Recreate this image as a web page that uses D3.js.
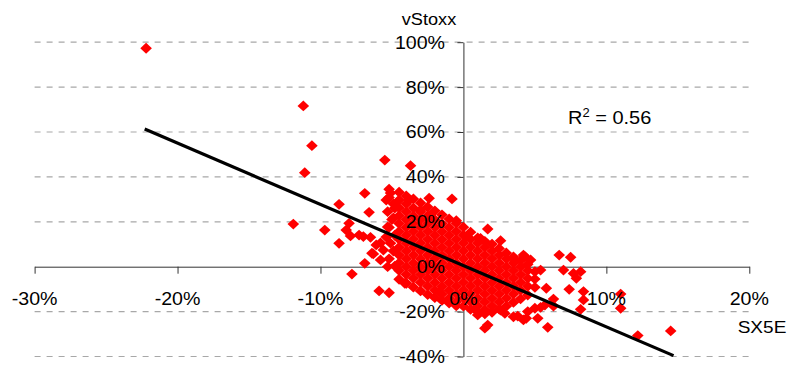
<!DOCTYPE html>
<html><head><meta charset="utf-8">
<script src="https://cdn.jsdelivr.net/npm/d3@7"></script>
<style>
body{margin:0;background:#fff;}
svg{display:block;}
text{font-family:"Liberation Sans",Arial,sans-serif;fill:#000;}
</style>
</head><body>
<svg id="c" width="791" height="367"></svg>
<script>
// ---- data (percent) ----
const xTicks = [-30, -20, -10, 0, 10, 20];
const yTicks = [-40, -20, 0, 20, 40, 60, 80, 100];
const xTitle = "SX5E";
const yTitle = "vStoxx";
const r2Value = "0.56";
const trendLine = [[-22.3, 61.3], [14.7, -39.6]];

const outliers = [
  [-22.2, 97.3], [-11.2, 71.6], [-10.6, 53.9], [-11.1, 41.9], [-11.9, 19.0],
  [-9.7, 16.3], [-8.7, 27.8], [-8.7, 10.4], [-8.0, 19.3], [-8.2, 16.3],
  [-6.9, 32.7], [-6.6, 24.2], [-5.5, 47.5], [-7.8, -3.3], [-6.9, 1.5],
  [-7.3, 14.1], [-7.9, 13.7], [-6.4, 6.0], [-5.8, 3.0], [-7.0, 13.4],
  [-6.5, 13.1], [-6.1, 9.7], [-5.6, 7.4], [-5.1, 32.8], [-5.4, 29.7],
  [-4.8, 26.1], [-4.9, 21.7], [-5.3, 17.7], [-5.4, 13.2], [-5.8, 10.6],
  [-5.2, 34.5], [-5.9, -10.8], [-5.2, -11.6], [-6.3, 5.7], [-5.3, 0.0],
  [-4.0, -7.3], [-3.7, 45.0], [-2.4, 30.5], [-0.8, 30.2], [-3.8, 29.7],
  [-0.5, 20.5], [1.7, 16.8], [1.2, 12.6], [2.6, 11.6], [0.2, 13.1],
  [3.5, 3.7], [4.3, 4.5], [-2.3, 23.0], [-3.0, 25.3], [6.7, 5.2],
  [7.5, 4.2], [7.0, -1.5], [7.7, -3.0], [8.2, -2.2], [7.9, -5.2],
  [7.4, -10.1], [8.4, -11.1], [8.4, -14.8], [8.2, -19.0], [11.0, -12.2],
  [11.0, -18.5], [12.2, -30.7], [14.5, -28.6], [5.4, -1.5], [5.8, -9.6],
  [6.3, -14.4], [5.4, -18.1], [5.9, -27.0], [4.4, -23.0], [5.2, -23.0],
  [4.7, 3.0], [4.2, 5.2], [5.7, -17.1], [5.0, -18.5], [6.3, -17.5],
  [-4.1, -7.4], [-1.7, -11.1], [1.0, -21.5], [1.7, -26.0], [1.5, -27.4],
  [2.6, -19.3], [3.5, -22.3], [4.2, -23.7], [4.5, -20.0], [2.9, -20.8],
  [3.8, -22.0],
  [-5.2, 30.8], [-4.9, 28.0], [-5.3, 24.5], [-5.0, 21.0], [-5.2, 17.5],
  [-4.8, 14.0], [-5.1, 10.5], [-4.9, 7.0], [-5.2, 3.5], [-4.8, 0.3]
];

const coreColumns = [
  {x: -4.5, y: [33.2, 29.7, 26.2, 22.7, 19.2, 15.7, 12.2, 8.7, 5.2, 1.7, -1.7, -5.6]},
  {x: -4.0, y: [31.5, 28, 24.5, 21, 17.5, 14, 10.5, 7, 3.5, 0, -3.5, -7.4]},
  {x: -3.5, y: [30.2, 26.2, 22.7, 19.2, 15.7, 12.2, 8.7, 5.2, 1.7, -1.7, -5.2, -9.1]},
  {x: -3.0, y: [28.4, 24.5, 21, 17.5, 14, 10.5, 7, 3.5, 0, -3.5, -7, -10.8]},
  {x: -2.5, y: [26.6, 22.7, 19.2, 15.7, 12.2, 8.7, 5.2, 1.7, -1.7, -5.2, -8.7, -12.4]},
  {x: -2.0, y: [24.9, 21, 17.5, 14, 10.5, 7, 3.5, 0, -3.5, -7, -10.5, -13.8]},
  {x: -1.5, y: [23.1, 19.2, 15.7, 12.2, 8.7, 5.2, 1.7, -1.7, -5.2, -8.7, -12.2, -15.0]},
  {x: -1.0, y: [21.3, 17.5, 14, 10.5, 7, 3.5, 0, -3.5, -7, -10.5, -14, -16.2]},
  {x: -0.5, y: [19.4, 15.7, 12.2, 8.7, 5.2, 1.7, -1.7, -5.2, -8.7, -12.2, -15.7, -17.4]},
  {x: 0.0, y: [17.6, 14, 10.5, 7, 3.5, 0, -3.5, -7, -10.5, -14, -17.6]},
  {x: 0.5, y: [15.4, 12.2, 8.7, 5.2, 1.7, -1.7, -5.2, -8.7, -12.2, -15.7, -19.0]},
  {x: 1.0, y: [12.8, 10.5, 7, 3.5, 0, -3.5, -7, -10.5, -14, -17.5, -20.2]},
  {x: 1.5, y: [11.3, 8.7, 5.2, 1.7, -1.7, -5.2, -8.7, -12.2, -15.7, -19.2, -21.0]},
  {x: 2.0, y: [10.1, 7, 3.5, 0, -3.5, -7, -10.5, -14, -17.5, -20.3]},
  {x: 2.5, y: [8.1, 5.2, 1.7, -1.7, -5.2, -8.7, -12.2, -15.7, -18.9]},
  {x: 3.0, y: [6.1, 3.5, 0, -3.5, -7, -10.5, -14, -17.6]},
  {x: 3.5, y: [4.4, 1.7, -1.7, -5.2, -8.7, -12.2, -15.9]},
  {x: 4.0, y: [2.8, 0, -3.5, -7, -10.5, -14.3]},
  {x: 4.5, y: [1.1, -1.7, -5.2, -8.7, -12.6]},
  {x: 5.0, y: [-2.2, -5.5, -9.2]}
];

const points = outliers.concat(coreColumns.flatMap(c => c.y.map(v => [c.x, v])));

// ---- drawing ----
const svg = d3.select("#c");
const x = d3.scaleLinear().domain([-30, 20]).range([34.6, 749.3]);
const y = d3.scaleLinear().domain([-40, 100]).range([356.5, 42.2]);
const pct = d => d + "%";
const SX = 1.06;

// gridlines
svg.append("g").selectAll("line")
  .data(yTicks.filter(d => d !== 0)).join("line")
  .attr("x1", x(-30)).attr("x2", x(20))
  .attr("y1", d => y(d)).attr("y2", d => y(d))
  .attr("stroke", "#a8a8a8").attr("stroke-width", 1.2)
  .attr("stroke-dasharray", "6,6");

// axes (lines and ticks only)
const gx = svg.append("g").attr("transform", `translate(0,${y(0)})`)
  .call(d3.axisBottom(x).tickValues(xTicks).tickSize(7).tickSizeOuter(0).tickFormat(""));
const gy = svg.append("g").attr("transform", `translate(${x(0)},0)`)
  .call(d3.axisLeft(y).tickValues(yTicks).tickSize(6).tickSizeOuter(0).tickFormat(""));
[gx, gy].forEach(g => {
  g.selectAll("path,line").attr("stroke", "#333").attr("stroke-width", 1);
});

// markers
const diamond = "M0,-5.4L5.8,0L0,5.4L-5.8,0Z";
svg.append("g").selectAll("path")
  .data(points).join("path")
  .attr("d", diamond)
  .attr("transform", d => `translate(${x(d[0])},${y(d[1])})`)
  .attr("fill", "#ff0000");

// trend line
svg.append("path")
  .datum(trendLine)
  .attr("d", d3.line().x(d => x(d[0])).y(d => y(d[1])))
  .attr("stroke", "#000").attr("stroke-width", 3.2).attr("fill", "none");

// tick labels
svg.append("g").selectAll("text")
  .data(yTicks).join("text")
  .attr("transform", d => `translate(445,${y(d)}) scale(${SX},1)`)
  .attr("dy", "0.35em").attr("text-anchor", "end")
  .attr("font-size", 18.5).text(pct);
svg.append("g").selectAll("text")
  .data(xTicks).join("text")
  .attr("transform", d => `translate(${x(d)},305) scale(${SX},1)`)
  .attr("text-anchor", "middle")
  .attr("font-size", 18.5).text(pct);

// titles
svg.append("text")
  .attr("transform", `translate(429,25) scale(1.1,1)`)
  .attr("text-anchor", "middle").attr("font-size", 16.5).text(yTitle);
svg.append("text")
  .attr("transform", `translate(762,333) scale(1.12,1)`)
  .attr("text-anchor", "middle").attr("font-size", 17).text(xTitle);

// R squared
const r2 = svg.append("text")
  .attr("transform", `translate(568,124) scale(1.08,1)`)
  .attr("font-size", 18.5);
r2.append("tspan").text("R");
r2.append("tspan").attr("font-size", 12).attr("dy", -7.5).text("2");
r2.append("tspan").attr("dy", 7.5).text(" = " + r2Value);
</script>
</body></html>
